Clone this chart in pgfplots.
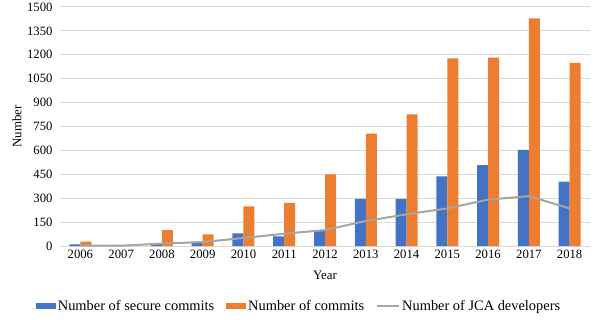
\documentclass[border=0pt]{standalone}
\usepackage{pgfplots}
\pgfplotsset{compat=1.18}
\usepackage{pgfplotstable}
\usepackage{fontspec}
\setmainfont{Liberation Serif}
\definecolor{secBlue}{HTML}{4472C4}
\definecolor{comOrange}{HTML}{ED7D31}
\definecolor{devGray}{HTML}{A5A5A5}
\definecolor{gridGray}{HTML}{D9D9D9}

% year index, secure commits, commits, JCA developers
\pgfplotstableread{
x sec com dev
0 10 27 2
1 0 0 2
2 12 100 15
3 27 73 25
4 79 249 50
5 60 270 77
6 100 450 100
7 295 705 157
8 295 826 199
9 437 1177 236
10 508 1183 291
11 604 1428 313
12 404 1150 236
}\commits

\begin{document}
\begin{tikzpicture}
\path[use as bounding box] (-60bp,-74bp) rectangle (538bp,246bp);
\begin{axis}[
    scale only axis, width=530bp, height=239bp,
    xmin=-0.5, xmax=12.5, ymin=0, ymax=1500,
    xtick={0,...,12},
    xticklabels={2006,2007,2008,2009,2010,2011,2012,2013,2014,2015,2016,2017,2018},
    ytick={0,150,...,1500},
    ymajorgrids, grid style={gridGray, line width=1bp},
    axis x line*=bottom, axis y line*=left,
    x axis line style={gridGray, line width=1bp, -},
    y axis line style={draw=none},
    major tick length=0pt,
    /pgf/number format/assume math mode=true,
    /pgf/number format/1000 sep={},
    tick label style={font=\fontsize{12.7bp}{15bp}\selectfont},
    yticklabel style={xshift=-4bp},
    xticklabel style={yshift=-1bp},
    xlabel={Year}, ylabel={Number},
    label style={font=\fontsize{12.9bp}{15bp}\selectfont},
    xlabel style={at={(axis description cs:0.5,-0.121)}, anchor=center},
    ylabel style={at={(axis description cs:-0.081,0.5)}, anchor=center},
    legend style={at={(0.451,-0.251)}, anchor=center, draw=none, fill=none,
        legend columns=3, font=\fontsize{14.4bp}{16bp}\selectfont,
        /tikz/every even column/.append style={column sep=10bp},
        inner sep=0pt},
    legend cell align=left,
]
\addplot[ybar, bar width=11bp, bar shift=-5.5bp, fill=secBlue, draw=none,
    legend image code/.code={\fill[secBlue] (0bp,-3bp) rectangle (20bp,3bp);}]
    table[x=x, y=sec] {\commits};
\addlegendentry{Number of secure commits}
\addplot[ybar, bar width=11bp, bar shift=5.5bp, fill=comOrange, draw=none,
    legend image code/.code={\fill[comOrange] (0bp,-3bp) rectangle (20bp,3bp);}]
    table[x=x, y=com] {\commits};
\addlegendentry{Number of commits}
\addplot[devGray, line width=2bp, mark=none,
    legend image code/.code={\draw[devGray, line width=2bp] (0bp,0bp) -- (22bp,0bp);}]
    table[x=x, y=dev] {\commits};
\addlegendentry{Number of JCA developers}
\end{axis}
\end{tikzpicture}
\end{document}
